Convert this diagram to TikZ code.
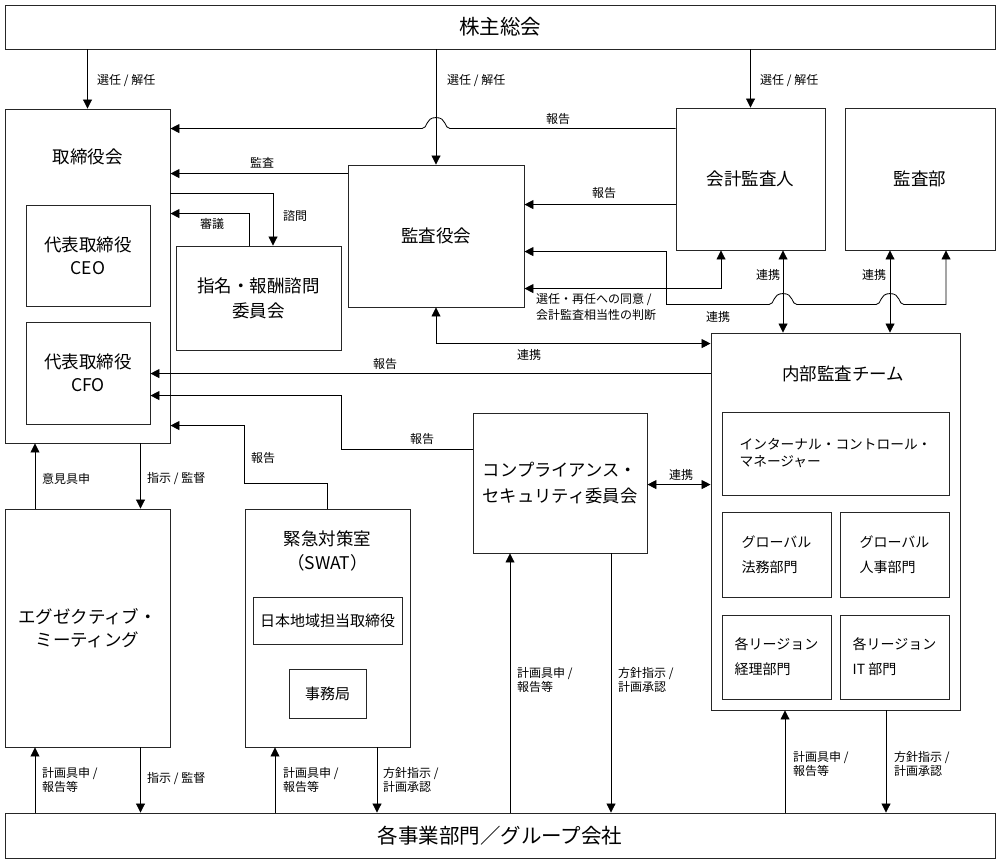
\documentclass[tikz,border=0pt]{standalone}
\usepackage{fontspec}
\setmainfont{Noto Sans CJK JP}
\usetikzlibrary{arrows.meta,calc}
\newcommand\jfs[2]{\fontsize{#1}{#2}\selectfont}
\begin{document}
\begin{tikzpicture}[x=1pt,y=-1pt,
  box/.style={draw=black!85, line width=0.9pt, inner sep=0pt, align=center},
  title/.style={font=\jfs{17.5}{23}, inner sep=0pt, align=center},
  big/.style={font=\jfs{20.5}{24}},
  small/.style={minimum width=109pt, minimum height=85pt, align=left, font=\jfs{14}{25}},
  lbl/.style={font=\jfs{12}{14.5}, inner sep=0pt, anchor=west, align=left},
  conn/.style={draw=black, line width=0.85pt},
  arr/.style={conn, -{Triangle[length=9pt,width=9pt]}},
  arr2/.style={conn, {Triangle[length=9pt,width=9pt]}-{Triangle[length=9pt,width=9pt]}}]
\useasboundingbox (0,0) rectangle (1000,862);

% ---------- boxes ----------
\node[box, big, minimum width=990pt, minimum height=44pt] (gm) at (500,27) {株主総会};
\node[box, big, minimum width=990pt, minimum height=45pt] (bu) at (500,835.5) {各事業部門／グループ会社};

\node[box, minimum width=165pt, minimum height=334pt] (board) at (87.5,276) {};
\node[title] (boardt) at (87.5,157) {取締役会};
\node[box, title, minimum width=124pt, minimum height=101pt] (ceo) at (88,255.5) {代表取締役\\CEO};
\node[box, title, minimum width=124pt, minimum height=102pt] (cfo) at (88,373) {代表取締役\\CFO};
\node[box, title, font=\jfs{17.5}{25}, minimum width=165pt, minimum height=104pt] (nom) at (258.5,298) {指名・報酬諮問\\委員会};
\node[box, title, minimum width=176pt, minimum height=142pt] (kansa) at (436,236) {監査役会};
\node[box, title, minimum width=149pt, minimum height=142pt] (auditor) at (750.5,179) {会計監査人};
\node[box, title, minimum width=150pt, minimum height=142pt] (iad) at (920,179) {監査部};

\node[box, minimum width=249pt, minimum height=377pt] (iat) at (835.5,521.5) {};
\node[title] (iatt) at (843,374) {内部監査チーム};
\node[box, minimum width=227pt, minimum height=83pt, align=left, font=\jfs{13.7}{17}] (icm) at (835.5,453.5) {インターナル・コントロール・\\マネージャー};
\node[box, small] (legal) at (776.5,554.5) {グローバル\\法務部門};
\node[box, small] (hr) at (894.5,554.5) {グローバル\\人事部門};
\node[box, small, minimum height=84pt] (acc) at (776.5,657) {各リージョン\\経理部門};
\node[box, small, minimum height=84pt] (it) at (894.5,657) {各リージョン\\IT 部門};

\node[box, title, font=\jfs{17.3}{26}, minimum width=174pt, minimum height=140pt] (comp) at (560,483) {コンプライアンス・\\セキュリティ委員会};

\node[box, title, minimum width=165pt, minimum height=238pt] (exec) at (87.5,628) {エグゼクティブ・\\ミーティング};
\node[box, minimum width=165pt, minimum height=238pt] (swat) at (327.5,628) {};
\node[title, font=\jfs{17.5}{24}] (swatt) at (327.5,551) {緊急対策室\\（SWAT）};
\node[box, font=\jfs{15}{18}, minimum width=149pt, minimum height=47pt] (jpdir) at (327.5,620.5) {日本地域担当取締役};
\node[box, font=\jfs{15}{18}, minimum width=77pt, minimum height=49pt] (office) at (327.5,693.5) {事務局};

% ---------- helper coordinates ----------
\path ([yshift=-21pt]auditor.north west) coordinate (a1);
\coordinate (h1) at (a1 -| kansa.north);
\coordinate (v1) at ([xshift=32.5pt]auditor.south);
\coordinate (v2) at ([xshift=-30pt]iad.south);
\path ([yshift=-87pt]kansa.north east) coordinate (k3) ++(142,0) coordinate (k3b) ++(0,53) coordinate (k4);
\coordinate (h2) at (k4 -| v1);
\coordinate (h3) at (k4 -| v2);
\coordinate (e1) at ([xshift=-52.5pt]exec.north);
\coordinate (b1) at ([xshift=53pt]board.south);
\coordinate (s2) at ([xshift=-52.5pt]swat.south);
\coordinate (s3) at ([xshift=49.5pt]swat.south);
\coordinate (c3) at ([xshift=-50pt]comp.south);
\coordinate (c4) at ([xshift=51pt]comp.south);
\coordinate (i2) at ([xshift=-50.5pt]iat.south);
\coordinate (i3) at ([xshift=50.5pt]iat.south);

% ---------- connectors ----------
\draw[arr] (gm.south -| board.north) -- (board.north);
\draw[arr] (gm.south -| kansa.north) -- (kansa.north);
\draw[arr] (gm.south -| auditor.north) -- (auditor.north);

\draw[arr] (a1) -- ([xshift=14pt]h1) .. controls +(-6,0) and +(11,0) .. ([yshift=11pt]h1)
  .. controls +(-11,0) and +(6,0) .. ([xshift=-14pt]h1) -- (a1 -| board.east);
\draw[arr] ([yshift=-9pt]kansa.north west) coordinate (k1) -- (k1 -| board.east);
\draw[arr] ([yshift=-85pt]board.north east) -| ([xshift=14.5pt]nom.north);
\draw[arr] ([xshift=-9.5pt]nom.north) |- ([yshift=-105pt]board.north east);

\draw[arr] ([yshift=-97pt]auditor.north west) coordinate (a2) -- (a2 -| kansa.east);
\draw[arr2] ([yshift=-124pt]kansa.north east) -| ([xshift=-29.5pt]auditor.south);
\draw[arr2] (k3) -- (k3b) -- (k4) -- ([xshift=-14pt]h2)
  .. controls +(6,0) and +(-11,0) .. ([yshift=11pt]h2)
  .. controls +(11,0) and +(-6,0) .. ([xshift=14pt]h2) -- ([xshift=-14pt]h3)
  .. controls +(6,0) and +(-11,0) .. ([yshift=11pt]h3)
  .. controls +(11,0) and +(-6,0) .. ([xshift=14pt]h3) -| ([xshift=26pt]iad.south);
\draw[arr2] (v1) -- (v1 |- iat.north);
\draw[arr2] (v2) -- (v2 |- iat.north);
\draw[arr2] (kansa.south) |- ([yshift=-11pt]iat.north west);

\draw[arr] ([yshift=-41pt]iat.north west) coordinate (i1) -- (i1 -| cfo.east);
\draw[arr] ([yshift=-37pt]comp.north west) coordinate (c1) -- (c1 -| nom.east) |- ([yshift=-74pt]cfo.north east);
\draw[arr] (swat.north) -- ++(0,-25) coordinate (s1) -- (s1 -| swat.west) |- ([yshift=-317pt]board.north east);
\draw[arr2] ([yshift=-72pt]comp.north east) coordinate (c2) -- (c2 -| iat.west);

\draw[arr] (e1) -- (e1 |- board.south);
\draw[arr] (b1) -- (b1 |- exec.north);

\draw[arr] (e1 |- bu.north) -- (e1 |- exec.south);
\draw[arr] (b1 |- exec.south) -- (b1 |- bu.north);
\draw[arr] (s2 |- bu.north) -- (s2);
\draw[arr] (s3) -- (s3 |- bu.north);
\draw[arr] (c3 |- bu.north) -- (c3);
\draw[arr] (c4) -- (c4 |- bu.north);
\draw[arr] (i2 |- bu.north) -- (i2);
\draw[arr] (i3) -- (i3 |- bu.north);

% ---------- labels ----------
\node[lbl] (l1) at (97,81) {選任 / 解任};
\node[lbl] (l2) at (447,81) {選任 / 解任};
\node[lbl] (l3) at (760,81) {選任 / 解任};
\node[lbl] (l4) at (546,119) {報告};
\node[lbl] (l5) at (250,163) {監査};
\node[lbl] (l6) at (283,216) {諮問};
\node[lbl] (l7) at (200,224) {審議};
\node[lbl] (l8) at (592,193) {報告};
\node[lbl, font=\jfs{12}{16}] (l9) at (536,307) {選任・再任への同意 /\\会計監査相当性の判断};
\node[lbl] (l10) at (756,275) {連携};
\node[lbl] (l11) at (862,275) {連携};
\node[lbl] (l12) at (706,317) {連携};
\node[lbl] (l13) at (517,355) {連携};
\node[lbl] (l14) at (373,364) {報告};
\node[lbl] (l15) at (410,439) {報告};
\node[lbl] (l16) at (251,458) {報告};
\node[lbl] (l17) at (669,475) {連携};
\node[lbl] (l18) at (42,479) {意見具申};
\node[lbl] (l19) at (147,479) {指示 / 監督};
\node[lbl] (l20) at (42,780) {計画具申 /\\報告等};
\node[lbl] (l21) at (147,779) {指示 / 監督};
\node[lbl] (l22) at (283,780) {計画具申 /\\報告等};
\node[lbl] (l23) at (383,780) {方針指示 /\\計画承認};
\node[lbl] (l24) at (517,680) {計画具申 /\\報告等};
\node[lbl] (l25) at (618,680) {方針指示 /\\計画承認};
\node[lbl] (l26) at (793,764) {計画具申 /\\報告等};
\node[lbl] (l27) at (894,764) {方針指示 /\\計画承認};
\end{tikzpicture}
\end{document}
